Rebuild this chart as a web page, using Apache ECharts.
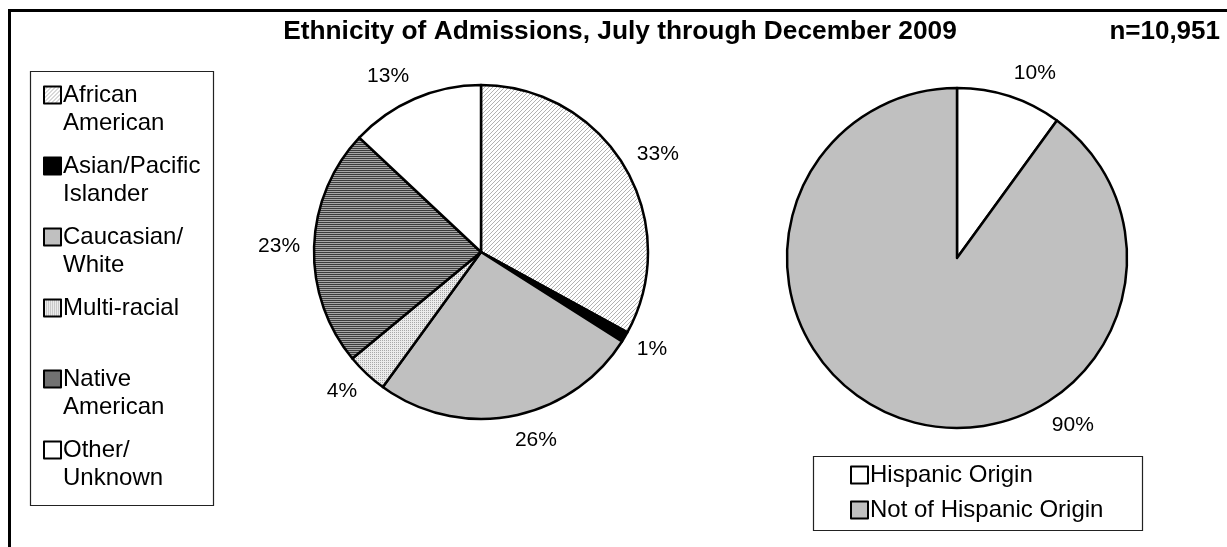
<!DOCTYPE html>
<html>
<head>
<meta charset="utf-8">
<script src="https://cdn.jsdelivr.net/npm/echarts@6/dist/echarts.min.js"></script>
<style>
  html, body { margin: 0; padding: 0; background: #fff; }
  #chart { width: 1227px; height: 547px; }
</style>
</head>
<body>
<div id="chart"></div>
<script>
// ---- data ----
const titleText = 'Ethnicity of Admissions, July through December 2009';
const countText = 'n=10,951';

const ethnicityNames = ['African American', 'Asian/Pacific Islander', 'Caucasian/White',
                        'Multi-racial', 'Native American', 'Other/Unknown'];
const ethnicityLegendText = ['African\nAmerican', 'Asian/Pacific\nIslander', 'Caucasian/\nWhite',
                             'Multi-racial\n\u00a0', 'Native\nAmerican', 'Other/\nUnknown'];
const ethnicityPercent = [33, 1, 26, 4, 23, 13];

const originNames = ['Hispanic Origin', 'Not of Hispanic Origin'];
const originPercent = [10, 90];

// ---- fills ----
function tile(w, h, draw) {
  const c = document.createElement('canvas');
  c.width = w; c.height = h;
  draw(c.getContext('2d'));
  return { image: c, repeat: 'repeat' };
}
const diagonalHatch = tile(4, 4, g => {
  g.fillStyle = '#fff'; g.fillRect(0, 0, 4, 4);
  g.fillStyle = '#b2b2b2';
  for (let i = 0; i < 4; i++) g.fillRect(3 - i, i, 1, 1);
});
const fineDots = tile(2, 2, g => {
  g.fillStyle = '#ebebeb'; g.fillRect(0, 0, 2, 2);
  g.fillStyle = '#a8a8a8'; g.fillRect(0, 0, 1, 1);
});
const horizontalStripes = tile(2, 2, g => {
  g.fillStyle = '#3c3c3c'; g.fillRect(0, 0, 2, 1);
  g.fillStyle = '#a6a6a6'; g.fillRect(0, 1, 2, 1);
});
const ethnicityFills = [diagonalHatch, '#000000', '#c0c0c0', fineDots, horizontalStripes, '#ffffff'];
const originFills = ['#ffffff', '#c0c0c0'];

// ---- layout ----
const FONT = '"Liberation Sans", Arial, Helvetica, sans-serif';
const pieA = { center: [481, 252], radius: 167 };
const pieB = { center: [957, 258], radius: 170 };
const labelGap = 14;
const notHispanicLabelAngle = 149; // degrees clockwise from 12 o'clock

// Outside labels hang off the rim left/right of the anchor; nudge them
// vertically by half their height in the direction of the slice.
function rimLabel(params) {
  const p = params.labelLinePoints;
  if (!p) return {};
  const vx = p[1][0] - p[0][0], vy = p[1][1] - p[0][1];
  const len = Math.hypot(vx, vy) || 1;
  return { dy: vy / len * params.labelRect.height / 2 };
}

const chart = echarts.init(document.getElementById('chart'), null, { renderer: 'canvas' });

const pieCommon = {
  type: 'pie',
  startAngle: 90,
  clockwise: true,
  avoidLabelOverlap: false,
  silent: true,
  animation: false,
  itemStyle: { borderColor: '#000', borderWidth: 2.5 },
  label: { show: true, position: 'outside', formatter: '{c}%', fontSize: 21,
           color: '#000', fontFamily: FONT, distanceToLabelLine: 0 },
  labelLine: { show: true, length: labelGap, length2: 0, lineStyle: { opacity: 0 } },
  emphasis: { disabled: true }
};

const legendCommon = {
  orient: 'vertical',
  icon: 'rect',
  itemWidth: 17,
  itemHeight: 17,
  padding: 0,
  selectedMode: false,
  itemStyle: { borderColor: '#000', borderWidth: 2 },
  textStyle: { fontSize: 24, color: '#000', fontFamily: FONT, padding: [0, 0, 0, -3] }
};

// A blank leading line keeps the swatch level with the first line of a two-line entry
const ethnicityLegendLabel = name =>
  '\u00a0\n' + ethnicityLegendText[ethnicityNames.indexOf(name)];

chart.setOption({
  backgroundColor: '#fff',
  textStyle: { fontFamily: FONT },
  animation: false,
  title: [
    { text: titleText, left: 620, textAlign: 'center', top: 19, padding: 0,
      textStyle: { fontSize: 26.3, fontWeight: 'bold', color: '#000', fontFamily: FONT, lineHeight: 26 } },
    { text: countText, right: 7, top: 19, padding: 0,
      textStyle: { fontSize: 26, fontWeight: 'bold', color: '#000', fontFamily: FONT, lineHeight: 26 } }
  ],
  legend: [
    Object.assign({}, legendCommon, {
      left: 43, top: 53,
      itemGap: -13,
      data: ethnicityNames,
      formatter: ethnicityLegendLabel,
      textStyle: Object.assign({}, legendCommon.textStyle, { lineHeight: 28 })
    }),
    Object.assign({}, legendCommon, {
      left: 850, top: 463,
      itemGap: 11,
      data: originNames
    })
  ],
  graphic: [
    { type: 'rect', silent: true, z: 100,
      shape: { x: 9.5, y: 10.5, width: 1400, height: 800 },
      style: { fill: 'none', stroke: '#000', lineWidth: 3 } },
    { type: 'rect', silent: true,
      shape: { x: 30.5, y: 71.5, width: 183, height: 434 },
      style: { fill: 'none', stroke: '#222', lineWidth: 1.2 } },
    { type: 'rect', silent: true,
      shape: { x: 813.5, y: 456.5, width: 329, height: 74 },
      style: { fill: 'none', stroke: '#222', lineWidth: 1.2 } }
  ],
  series: [
    Object.assign({}, pieCommon, {
      name: 'Ethnicity',
      center: pieA.center,
      radius: pieA.radius,
      labelLayout: rimLabel,
      data: ethnicityNames.map((n, i) => ({
        name: n, value: ethnicityPercent[i], itemStyle: { color: ethnicityFills[i] }
      }))
    }),
    Object.assign({}, pieCommon, {
      name: 'Origin',
      center: pieB.center,
      radius: pieB.radius,
      labelLayout: params => {
        if (params.dataIndex === 1) {
          // the large slice's label sits on the lower right of the rim
          const a = notHispanicLabelAngle * Math.PI / 180;
          const d = pieB.radius + labelGap;
          const ux = Math.sin(a), uy = -Math.cos(a);
          return {
            x: pieB.center[0] + ux * d,
            y: pieB.center[1] + uy * d + uy * params.labelRect.height / 2,
            align: 'left'
          };
        }
        return rimLabel(params);
      },
      data: originNames.map((n, i) => ({
        name: n, value: originPercent[i], itemStyle: { color: originFills[i] }
      }))
    })
  ]
});
</script>
</body>
</html>
